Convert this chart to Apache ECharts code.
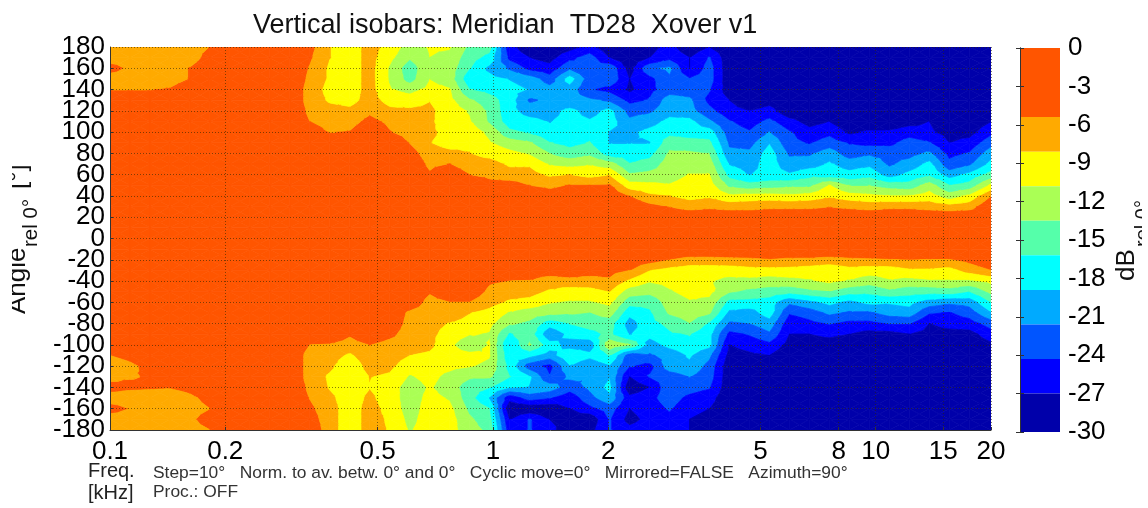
<!DOCTYPE html>
<html><head><meta charset="utf-8">
<style>html,body{margin:0;padding:0;background:#fff}#c{width:1148px;height:508px}</style>
<script src="https://cdn.jsdelivr.net/npm/echarts@6/dist/echarts.min.js"></script>
</head><body><div id="c"></div>
<script>
const freqKHz=[0.1,0.1128,0.1272,0.1434,0.1617,0.1824,0.2057,0.232,0.2616,0.295,0.3327,0.3751,0.423,0.4771,0.538,0.6067,0.6842,0.7716,0.8701,0.9812,1.1066,1.248,1.407,1.587,1.79,2.018,2.276,2.567,2.894,3.264,3.681,4.151,4.681,5.279,5.953,6.713,7.571,8.537,9.628,10.86,12.24,13.81,15.57,17.56,20];
const angles=[180,170,160,150,140,130,120,110,100,90,80,70,60,50,40,30,20,10,0,-10,-20,-30,-40,-50,-60,-70,-80,-90,-100,-110,-120,-130,-140,-150,-160,-170,-180];
const freqTicks=[0.1,0.2,0.5,1,2,5,8,10,15,20];
// rows +180 ... +30, one list per frequency
const upperDb=[
[-7,-7,-4,-7,-5.5,-3,-3,-3,-3,-3,-3,-3,-3,-3,-3,-3],
[-7,-7,-6,-7,-5.5,-3,-3,-3,-3,-3,-3,-3,-3,-3,-3,-3],
[-7,-7,-7,-7,-5.5,-3,-3,-3,-3,-3,-3,-3,-3,-3,-3,-3],
[-7,-7,-7,-7,-5,-3,-3,-3,-3,-3,-3,-3,-3,-3,-3,-3],
[-7,-7,-5.2,-5.2,-3,-3,-3,-3,-3,-3,-3,-3,-3,-3,-3,-3],
[-5.3,-4,-3,-3,-3,-3,-3,-3,-3,-3,-3,-3,-3,-3,-3,-3],
[-3,-3,-3,-3,-3,-3,-3,-3,-3,-3,-3,-3,-3,-3,-3,-3],
[-3,-3,-3,-3,-3,-3,-3,-3,-3,-3,-3,-3,-3,-3,-3,-3],
[-3,-3,-3,-3,-3,-3,-3,-3,-3,-3,-3,-3,-3,-3,-3,-3],
[-3,-3,-3,-3,-3,-3,-3,-3,-3,-3,-3,-3,-3,-3,-3,-3],
[-4.5,-5,-5.6,-6,-6.5,-6.5,-6,-5.4,-4,-3,-3,-3,-3,-3,-3,-3],
[-8,-8,-8.5,-8.5,-9,-8.5,-7,-6.5,-5.5,-4,-3,-3,-3,-3,-3,-3],
[-9.5,-9.5,-9.5,-9.5,-9.5,-9,-7.5,-6.5,-5.2,-3,-3,-3,-3,-3,-3,-3],
[-7,-7,-7,-7,-7,-7,-6,-4.5,-3,-3,-3,-3,-3,-3,-3,-3],
[-9,-10,-11,-11,-10.5,-9,-7.5,-6,-5.2,-3,-3,-3,-3,-3,-3,-3],
[-12,-13,-15,-14.5,-11.5,-9.5,-7.5,-7,-6.5,-5.5,-4,-3,-3,-3,-3,-3],
[-10.5,-10.8,-11,-10.8,-10,-8.2,-7.5,-7.5,-7.5,-8,-7,-6,-5,-3,-3,-3],
[-10.5,-11.5,-12,-12,-10.5,-10,-9.5,-10,-9,-9,-7.5,-5.3,-3,-3,-3,-3],
[-14,-15,-16,-18,-16,-13,-11,-10.5,-9,-8.5,-8,-7,-5.4,-3,-3,-3],
[-15,-17,-19.5,-18,-17,-15,-14,-13.8,-11.5,-10.5,-9,-7,-6,-4.5,-3,-3],
[-26,-25,-22,-19,-18,-17.5,-18,-17.5,-15.5,-12,-10,-8.5,-7,-4,-3,-3],
[-29,-27,-25,-20,-19,-22,-20,-18,-16.5,-13,-11,-8.5,-7,-5.4,-3,-3],
[-29,-28,-26,-23,-20.5,-21,-20,-19,-18,-16,-13.5,-11,-8.5,-6,-4,-3],
[-28,-25,-22,-17.5,-20,-21,-18,-18,-18,-17,-15,-11.5,-8,-5.2,-3.5,-3],
[-26,-23,-24,-23,-24,-21,-20,-18.5,-17,-16,-14,-11,-9,-5.3,-3,-3],
[-29,-27,-22,-22,-25,-22,-18,-17.5,-19,-19,-17.5,-12,-8.2,-5,-3,-3],
[-29,-29,-28,-27,-27.5,-25,-22.5,-21,-19.5,-19,-17.5,-16,-13,-9.5,-5.4,-3],
[-28,-27,-22,-25,-25,-24,-22,-20,-18,-19,-17,-15,-12.5,-10,-7.5,-4.5],
[-26,-25,-21,-22,-23,-20,-20,-18,-17,-14.5,-13,-12,-12,-10.5,-8,-5.5],
[-29,-27,-27,-24,-23,-21,-20.5,-18,-17.5,-15,-13,-12,-10.6,-9.5,-9,-6.5],
[-27,-24,-23,-23,-24,-25,-23.5,-21,-17.5,-15.5,-13.5,-12,-10.6,-9.5,-8.5,-6],
[-29,-29,-29,-29,-28.5,-27,-26,-24,-23,-22,-21,-19,-17,-14,-10,-6.5],
[-29,-29,-29,-29,-29,-29,-27,-25.5,-24,-22.5,-21,-20,-19,-15,-9.5,-6.5],
[-29,-29,-29,-29,-29,-28,-26,-23.5,-21.5,-19,-17.5,-17.5,-18,-14.5,-9.5,-6],
[-29,-29,-29,-29,-29,-29,-29,-26,-24,-23.5,-22,-20.5,-18.5,-14,-10,-6],
[-29,-29,-29,-29,-29,-29,-29,-28,-26,-24.5,-22,-20,-17,-14,-9.5,-6],
[-29,-29,-29,-29,-29,-29,-29,-27,-25,-23,-20,-18.5,-17.5,-10.5,-8.5,-5.5],
[-29,-29,-29,-29,-29,-29,-29,-29,-27.5,-24.5,-23,-20,-18,-13.5,-9.5,-6],
[-29,-29,-29,-29,-29,-29,-29,-29,-26.5,-25,-22,-19.5,-17,-13.5,-10,-6.5],
[-29,-29,-29,-29,-29,-29,-29,-29,-26.5,-25,-22.5,-22,-20,-14.5,-10.5,-6],
[-29,-29,-29,-29,-29,-29,-29,-28,-25.5,-23,-22.5,-20.5,-18,-15,-10.5,-6],
[-29,-29,-29,-29,-29,-29,-29,-27,-26.5,-24,-21,-18,-16.5,-12,-9.5,-6.5],
[-29,-29,-29,-29,-29,-29,-29,-29,-28,-27,-25,-23.5,-20,-16,-12,-7],
[-29,-29,-29,-29,-29,-29,-29,-29,-28,-26,-24,-22,-18,-15,-10,-6.5],
[-29,-29,-29,-29,-29,-29,-29,-27,-25,-22.5,-20,-18,-15,-10,-5.4,-3]
];
// rows +20, +10, 0, -10: the main lobe at every frequency
const centerDb=[-3,-2,-1,-2];
// rows -20 ... -180, one list per frequency
const lowerDb=[
[-3,-3,-3,-3,-3,-3,-3,-3,-3,-5.4,-7,-6.5,-4,-7,-4,-7,-7],
[-3,-3,-3,-3,-3,-3,-3,-3,-3,-4.5,-6,-5.6,-4.8,-7,-5.5,-7,-7],
[-3,-3,-3,-3,-3,-3,-3,-3,-3,-3,-4.5,-5.2,-5,-7,-7,-7,-7],
[-3,-3,-3,-3,-3,-3,-3,-3,-3,-3,-3,-3.5,-5.2,-7,-7,-7,-7],
[-3,-3,-3,-3,-3,-3,-3,-3,-3,-3,-3,-3,-4.5,-6,-6.5,-6,-6.5],
[-3,-3,-3,-3,-3,-3,-3,-3,-3,-3,-3,-3,-3,-4.5,-5.4,-4,-5.4],
[-3,-3,-3,-3,-3,-3,-3,-3,-3,-3,-3,-3,-3,-3,-3,-3,-3],
[-3,-3,-3,-3,-3,-3,-3,-3,-3,-3,-3,-3,-3,-3,-3,-3,-3],
[-3,-3,-3,-3,-3,-3,-3,-3,-3,-3,-3,-3,-3,-3,-3,-3,-3],
[-3,-3,-3,-3,-3,-3,-3,-3,-3,-3,-3,-3,-3,-3,-3,-3,-3],
[-3,-3,-3,-3,-3,-3,-3,-3,-5.4,-6.5,-6.5,-6.5,-6,-5.5,-4.8,-4,-3],
[-3,-3,-3,-3,-3,-3,-3,-3,-5.6,-7,-7.5,-8.5,-8.3,-7.5,-7,-7,-7],
[-3,-3,-3,-3,-3,-3,-3,-5,-6.5,-8.5,-10,-10,-9.5,-9.5,-9.5,-9.5,-9.5],
[-3,-3,-3,-3,-3,-3,-3,-3,-5.3,-6.5,-7,-8,-8.2,-7.5,-7,-7,-7],
[-3,-3,-3,-3,-3,-3,-3,-4.5,-6.5,-7,-7.5,-8.5,-9.5,-9.5,-9,-8.5,-8.3],
[-3,-3,-3,-3,-3,-6,-6.5,-7,-7,-8.1,-9.5,-11,-12,-12,-12,-11.5,-11],
[-3,-3,-3,-5,-6.5,-7,-7.5,-7.5,-7.5,-8.5,-9.5,-10,-10.5,-10,-9.5,-9.5,-9.5],
[-3,-3,-3,-3,-5.4,-6.5,-8.2,-9,-10,-9.5,-10,-11.5,-12,-11,-10,-9.5,-9.5],
[-3,-3,-3,-3.5,-5.4,-8,-9,-10.5,-13,-9.5,-10.5,-13,-15,-15,-14,-13,-12.5],
[-3,-3,-5,-6,-7,-9,-10,-11,-10.5,-10.5,-11.5,-13,-16,-19,-16,-15,-14],
[-3,-3.5,-5.4,-6.8,-8.5,-11,-13,-16.5,-19,-18,-17,-16,-18.5,-26,-29,-27,-26],
[-3,-4,-5.5,-7,-9,-12,-14,-14.5,-13,-18,-23,-18.5,-19,-23,-29,-24,-24],
[-3,-4,-6.5,-8.5,-10.5,-12.5,-17.5,-21,-17.5,-20,-25,-24,-20,-24,-29,-27,-26],
[-3,-4,-6,-9.5,-11,-13,-16,-18,-20,-16.5,-19,-21,-23,-26,-27,-28,-29],
[-3,-4,-6.5,-9,-11,-13.5,-15,-17,-20.5,-18,-21,-21.5,-21,-22.5,-25,-29,-28],
[-3,-4.5,-5.8,-8,-10,-12,-15,-15.5,-11,-16,-19,-19,-18,-19.5,-23,-24,-24],
[-3.5,-5.4,-8.5,-12,-15,-18,-20,-19,-13,-23,-24,-27,-29,-26,-27,-28,-26],
[-4,-8,-10.5,-12.5,-15.5,-16.5,-17,-18,-20,-22,-25,-24,-27,-25,-25.5,-26,-25],
[-5.3,-9,-10,-11,-12,-13,-15.5,-16.5,-18,-20.5,-20,-23,-22,-23,-24,-25,-25],
[-6.5,-9.5,-10,-10,-11,-12,-13.5,-16,-17,-18.5,-19.5,-21.5,-23,-25,-26,-27,-27],
[-6.5,-9.5,-10.5,-10,-11.5,-13,-16.5,-18,-18,-21,-22.5,-23,-24,-26,-27,-28,-28],
[-6.2,-9.5,-11.5,-13,-17,-19.5,-22,-25,-27,-28,-29,-29,-29,-29,-29,-29,-29],
[-6,-9,-11.5,-14,-17,-20,-21.5,-24,-26,-27.5,-29,-29,-29,-29,-29,-29,-29],
[-5.5,-9,-12,-14.5,-17.5,-17.5,-20,-22,-25,-27,-29,-29,-29,-29,-29,-29,-29],
[-6,-9,-11.5,-15,-21,-24,-26,-27,-28,-29,-29,-29,-29,-29,-29,-29,-29],
[-6,-9.5,-11,-14,-19.5,-23,-25,-27,-28,-29,-29,-29,-29,-29,-29,-29,-29],
[-6.5,-10,-10,-13.5,-18,-21,-24,-26.5,-28,-29,-29,-29,-29,-29,-29,-29,-29],
[-6,-9,-11,-15,-19.5,-22,-25,-27,-28.5,-29,-29,-29,-29,-29,-29,-29,-29],
[-5.8,-9.5,-12,-15.5,-18,-22,-25,-28,-29,-29,-29,-29,-29,-29,-29,-29,-29],
[-5.5,-9.5,-11,-14,-18.5,-20.5,-24,-28,-29,-29,-29,-29,-29,-29,-29,-29,-29],
[-5.3,-8.5,-11.5,-15,-18,-20,-24,-27,-28,-29,-29,-29,-29,-29,-29,-29,-29],
[-5.5,-8.5,-11,-15,-20,-24,-27,-28,-29,-29,-29,-29,-29,-29,-29,-29,-29],
[-5.5,-9,-11,-14.5,-21,-24.5,-26,-28,-29,-29,-29,-29,-29,-29,-29,-29,-29],
[-4.5,-7,-11,-16,-20.5,-23,-25.5,-28,-29,-29,-29,-29,-29,-29,-29,-29,-29],
[-3,-5.4,-10,-12.5,-16,-19,-23,-25.5,-27.5,-29,-29,-29,-29,-29,-29,-29,-29]
];
const bandEdges=[0,-5.4,-8.1,-10.8,-13.5,-16.2,-18.9,-21.6,-24.3,-27,-30];
const bandColors=['#FF5500','#FFAA00','#FFFF00','#AAFF55','#55FFAA','#00FFFF','#00AAFF','#0055FF','#0000FF','#0000AA'];

const FONT='"Liberation Sans", Arial, sans-serif';
const cells=[];
for(let i=0;i<freqKHz.length-1;i++){
  const a=upperDb[i].concat(centerDb,lowerDb[i]), b=upperDb[i+1].concat(centerDb,lowerDb[i+1]);
  for(let j=0;j<angles.length-1;j++){
    cells.push([freqKHz[i],angles[j],freqKHz[i+1],angles[j+1],a[j],b[j],a[j+1],b[j+1]]);
  }
}
// filled-contour drawing: every cell is split into triangles and each triangle clipped to the dB bands
function clip(poly,level,keepAbove){
  const out=[];
  for(let n=0;n<poly.length;n++){
    const p=poly[n],q=poly[(n+1)%poly.length];
    const pIn=keepAbove?p[2]>=level:p[2]<=level, qIn=keepAbove?q[2]>=level:q[2]<=level;
    if(pIn)out.push(p);
    if(pIn!==qIn){const t=(level-p[2])/(q[2]-p[2]);out.push([p[0]+t*(q[0]-p[0]),p[1]+t*(q[1]-p[1]),level]);}
  }
  return out;
}
function renderCell(params,api){
  const f0=api.value(0),a0=api.value(1),f1=api.value(2),a1=api.value(3);
  const d=[api.value(4),api.value(5),api.value(6),api.value(7)];
  const c0=api.coord([f0,a0]),c1=api.coord([f1,a1]);
  const tl=[c0[0],c0[1],d[0]],tr=[c1[0],c0[1],d[1]],bl=[c0[0],c1[1],d[2]],br=[c1[0],c1[1],d[3]];
  const mid=[(c0[0]+c1[0])/2,(c0[1]+c1[1])/2,(d[0]+d[1]+d[2]+d[3])/4];
  const tris=[[tl,tr,mid],[tr,br,mid],[br,bl,mid],[bl,tl,mid]];
  const children=[];
  tris.forEach(t=>{
    for(let b=0;b<bandColors.length;b++){
      let poly=t;
      if(b>0)poly=clip(poly,bandEdges[b],false);
      if(poly.length&&b<bandColors.length-1)poly=clip(poly,bandEdges[b+1],true);
      if(poly.length>2){
        children.push({type:'polygon',silent:true,shape:{points:poly.map(p=>[p[0],p[1]])},
          style:{fill:bandColors[b],stroke:bandColors[b],lineWidth:0.7}});
      }
    }
  });
  return {type:'group',children};
}
function renderBand(params,api){
  const p0=api.coord([0,api.value(0)]),p1=api.coord([1,api.value(1)]);
  return {type:'rect',shape:{x:p0[0],y:p0[1],width:p1[0]-p0[0],height:p1[1]-p0[1]},style:{fill:bandColors[params.dataIndex]}};
}
function txt(text,x,y,size,color,extra){
  return Object.assign({type:'text',x,y,z:20,silent:true,style:{text,font:size+'px '+FONT,fill:color||'#000',textAlign:'left',textVerticalAlign:'middle'}},extra||{});
}
const dotted={type:[1,2],color:'rgba(50,40,0,0.6)',width:1};
const chart=echarts.init(document.getElementById('c'),null,{renderer:'canvas'});
chart.setOption({
  animation:false,backgroundColor:'#fff',
  title:{text:'Vertical isobars: Meridian  TD28  Xover v1',left:248,top:7,textStyle:{fontFamily:FONT,fontSize:27,fontWeight:'normal',color:'#111'}},
  grid:[{left:110,right:157,top:47,bottom:78,containLabel:false},{left:1020,right:88,top:48,bottom:76}],
  xAxis:[
    {type:'log',logBase:10,gridIndex:0,min:0.1,max:20,z:10,
     axisLine:{show:true,onZero:false,lineStyle:{color:'#333',width:1}},
     axisTick:{show:true,inside:true,length:3,customValues:freqTicks,lineStyle:{color:'#333'}},
     minorTick:{show:false},minorSplitLine:{show:false},
     axisLabel:{show:true,customValues:freqTicks,margin:9,fontFamily:FONT,fontSize:26,color:'#000',showMinLabel:true,showMaxLabel:true,hideOverlap:false,alignMinLabel:'center',alignMaxLabel:'center',formatter:v=>String(v)},
     splitLine:{show:true,lineStyle:dotted}},
    {type:'value',gridIndex:1,min:0,max:1,show:false}
  ],
  yAxis:[
    {type:'value',gridIndex:0,min:-180,max:180,interval:20,z:10,
     axisLine:{show:true,onZero:false,lineStyle:{color:'#333',width:1}},
     axisTick:{show:true,inside:true,length:3,lineStyle:{color:'#333'}},
     axisLabel:{margin:5,fontFamily:FONT,fontSize:26,color:'#000',hideOverlap:false,showMinLabel:false,showMaxLabel:false},
     splitLine:{show:true,lineStyle:dotted}},
    {type:'value',gridIndex:1,position:'right',min:-30,max:0,interval:3,z:10,
     axisLine:{show:true,lineStyle:{color:'#333',width:1}},
     axisTick:{show:true,inside:true,length:4,lineStyle:{color:'#333'}},
     axisLabel:{margin:8,fontFamily:FONT,fontSize:26,color:'#000',hideOverlap:false,showMinLabel:true,showMaxLabel:true},
     splitLine:{show:false}},
    {type:'value',gridIndex:1,position:'left',min:-30,max:0,interval:3,z:10,
     axisLine:{show:true,lineStyle:{color:'#333',width:1}},
     axisTick:{show:true,inside:true,length:4,lineStyle:{color:'#333'}},
     axisLabel:{show:false},splitLine:{show:false}},
    // carries only the end labels +180 and -180, which would otherwise knock out their neighbours
    {type:'value',gridIndex:0,position:'left',min:-180,max:180,interval:20,z:10,
     axisLine:{show:false},axisTick:{show:false},splitLine:{show:false},
     axisLabel:{margin:5,fontFamily:FONT,fontSize:26,color:'#000',hideOverlap:false,showMinLabel:true,showMaxLabel:true,
       formatter:v=>(v===180||v===-180)?String(v):''}}
  ],
  series:[
    {type:'custom',xAxisIndex:0,yAxisIndex:0,clip:true,silent:true,progressive:0,
     encode:{x:[0,2],y:[1,3]},renderItem:renderCell,data:cells},
    {type:'custom',xAxisIndex:1,yAxisIndex:1,silent:true,
     encode:{y:[0,1]},renderItem:renderBand,data:bandEdges.slice(0,-1).map((e,i)=>[e,bandEdges[i+1]])}
  ],
  graphic:[
    txt('Freq.',88,471,20,'#222'),
    txt('[kHz]',88,493,20,'#222'),
    txt('Step=10°   Norm. to av. betw. 0° and 0°   Cyclic move=0°   Mirrored=FALSE   Azimuth=90°',153,473,17.4,'#333'),
    txt('Proc.: OFF',153,492,17.4,'#333'),
    txt('Angle',18,314,26,'#111',{rotation:Math.PI/2}),
    txt('rel 0°',31,247,20.5,'#111',{rotation:Math.PI/2}),
    txt('[°]',19,189,26,'#111',{rotation:Math.PI/2}),
    {type:'rect',z:30,silent:true,shape:{x:0,y:150,width:12,height:180},style:{fill:'#fff'}},
    txt('dB',1127,281,26,'#111',{rotation:Math.PI/2}),
    txt('rel 0°',1143,247,20,'#111',{rotation:Math.PI/2}),
    {type:'rect',z:30,silent:true,shape:{x:1142,y:150,width:6,height:180},style:{fill:'#fff'}}
  ]
});
</script></body></html>
